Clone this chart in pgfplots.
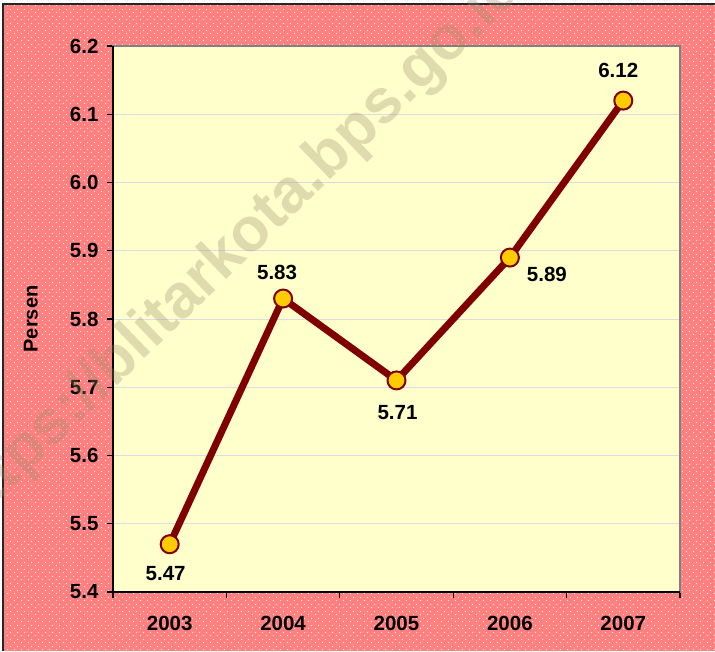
\documentclass[border=0pt]{standalone}
\usepackage{fontspec}
\setmainfont{Liberation Sans}
\usepackage{pgfplots}
\usepackage{pgfplotstable}
\pgfplotsset{compat=1.18}
\usetikzlibrary{patterns}
\definecolor{bgpink}{HTML}{FF8080}
\definecolor{dotcol}{HTML}{FFF2DC}
\definecolor{plotbg}{HTML}{FFFFCC}
\definecolor{linecol}{HTML}{800000}
\definecolor{markcol}{HTML}{FFCC00}
\definecolor{gridcol}{HTML}{DCDCE4}
\definecolor{framegray}{HTML}{808080}
\definecolor{wmcol}{HTML}{9A8A6A}

\pgfdeclarepatternformonly{mydots}{\pgfqpoint{0pt}{0pt}}{\pgfqpoint{6.5pt}{6.5pt}}{\pgfqpoint{6.5pt}{6.5pt}}{%
 \pgfpathcircle{\pgfqpoint{1.6pt}{1.6pt}}{0.75pt}%
 \pgfpathcircle{\pgfqpoint{4.85pt}{4.85pt}}{0.75pt}%
 \pgfusepath{fill}}

\pgfplotstableread{
x y dx dy
0 5.47 -4 -29
1 5.83 -6 26
2 5.71 1 -32
3 5.89 37 -17
4 6.12 -5 30
}\datatable

\begin{document}
\begin{tikzpicture}[x=1pt,y=1pt]
\useasboundingbox (-113,-59) rectangle (602,592);
\fill[white] (-113,-59) rectangle (602,592);
\fill[bgpink] (-110,-59) rectangle (602,588);
\fill[pattern=mydots, pattern color=dotcol] (-110,-59) rectangle (602,588);
\draw[line width=2, black!85] (-110,-59) -- (-110,588) -- (602,588);
\begin{axis}[
  anchor=south west,
  scale only axis, width=567pt, height=546pt,
  xmin=-0.5, xmax=4.5, ymin=5.4, ymax=6.2,
  clip=false,
  axis background/.style={fill=plotbg},
  axis line style={draw=framegray, line width=2.5pt},
  tick pos=left, tick align=outside, major tick length=6pt,
  tick style={black, line width=1.2pt},
  xtick={-0.5,0.5,1.5,2.5,3.5,4.5}, xticklabels={},
  extra x ticks={0,1,2,3,4},
  extra x tick labels={2003,2004,2005,2006,2007},
  extra x tick style={major tick length=0pt, xticklabel style={yshift=-21pt}},
  ytick={5.4,5.5,5.6,5.7,5.8,5.9,6.0,6.1,6.2},
  ymajorgrids, major grid style={gridcol, line width=1pt},
  /pgf/number format/assume math mode=true,
  ticklabel style={font=\fontsize{20.5}{21}\selectfont\bfseries},
  yticklabel style={xshift=-5pt, /pgf/number format/.cd, fixed, fixed zerofill, precision=1},
  ylabel={Persen},
  ylabel style={font=\fontsize{20}{20}\selectfont\bfseries, at={(axis description cs:-0.145,0.5)}, anchor=center},
]
\draw[black, line width=1.5pt] (rel axis cs:0,1) -- (rel axis cs:0,0) -- (rel axis cs:1,0);
\addplot[linecol, line width=7pt, line join=round,
  mark=*, mark size=9pt, mark options={fill=markcol, draw=linecol, line width=2pt},
  nodes near coords, point meta=explicit symbolic,
  visualization depends on={\thisrow{dx}\as\dx},
  visualization depends on={\thisrow{dy}\as\dy},
  every node near coord/.append style={anchor=center, xshift=\dx pt, yshift=\dy pt,
    font=\fontsize{20.5}{21}\selectfont\bfseries, text=black}]
  table[x=x, y=y, meta=y] \datatable;
\end{axis}
\node[rotate=44, text=wmcol, opacity=0.3, font=\fontsize{62}{62}\selectfont\bfseries] at (122,342) {https://blitarkota.bps.go.id};
\end{tikzpicture}
\end{document}
